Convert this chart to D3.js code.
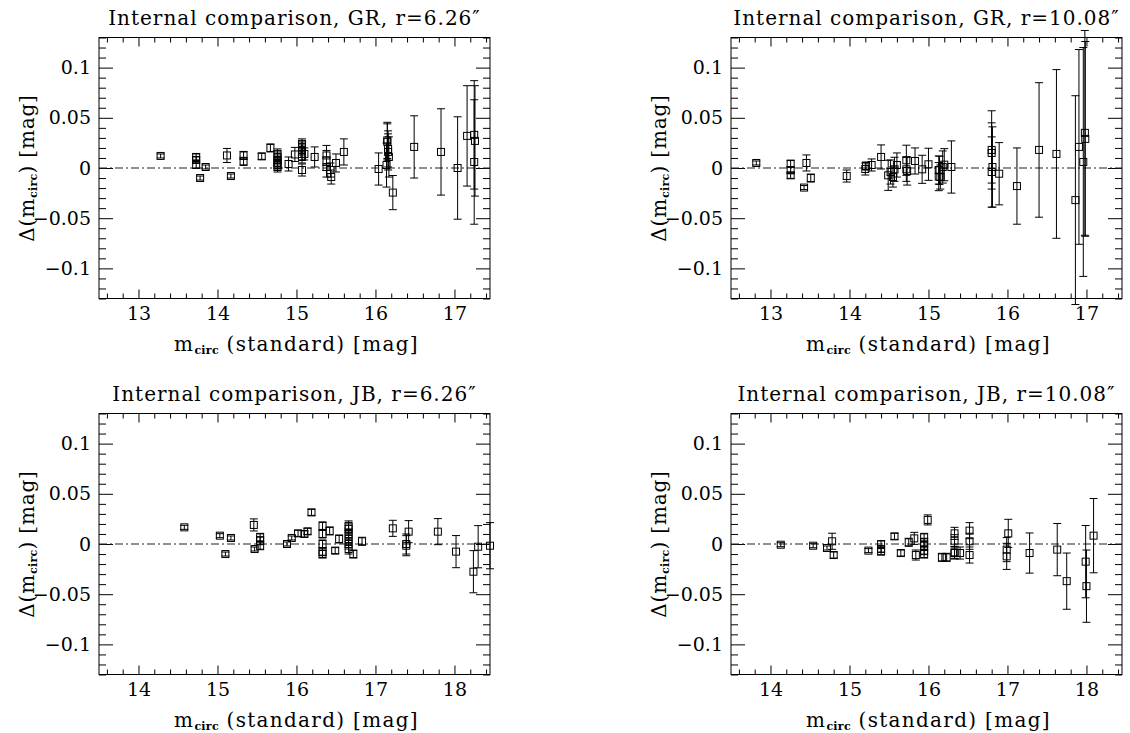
<!DOCTYPE html>
<html><head><meta charset="utf-8">
<script src="https://cdn.jsdelivr.net/npm/d3@7"></script>
<style>body{margin:0;background:#fff}</style>
</head><body>
<svg id="chart" width="1130" height="733"></svg>
<script>
// ---- tick values / labels ----
const topXDomain = [12.5, 17.45];
const bottomXDomain = [13.5, 18.45];
const yDomain = [-0.13, 0.13];
const topXTicks = [13, 14, 15, 16, 17];
const bottomXTicks = [14, 15, 16, 17, 18];
const yTicks = [0.1, 0.05, 0, -0.05, -0.1];
const yTickLabels = ["0.1", "0.05", "0", "\u22120.05", "\u22120.1"];
const titles = ["Internal comparison, GR, r=6.26\u2033", "Internal comparison, GR, r=10.08\u2033",
                "Internal comparison, JB, r=6.26\u2033", "Internal comparison, JB, r=10.08\u2033"];

// ---- GR, r=6.26" ----
const gr626_m = [13.28, 13.73, 13.73, 13.73, 13.78, 13.85, 14.12, 14.17, 14.33, 14.33, 14.56, 14.67, 14.76, 14.76, 14.76, 14.76, 14.76, 14.76, 14.90, 14.98, 15.07, 15.07, 15.07, 15.07, 15.07, 15.07, 15.10, 15.23, 15.38, 15.38, 15.38, 15.43, 15.44, 15.50, 15.60, 16.04, 16.15, 16.15, 16.16, 16.16, 16.17, 16.14, 16.22, 16.49, 16.83, 17.04, 17.16, 17.25, 17.26, 17.25];
const gr626_d = [0.012, 0.011, 0.008, 0.003, -0.010, 0.001, 0.0125, -0.008, 0.0125, 0.0066, 0.0116, 0.020, 0.014, 0.011, 0.008, 0.005, 0.003, 0.001, 0.004, 0.0135, 0.024, 0.021, 0.018, 0.014, 0.011, -0.002, 0.014, 0.011, 0.0125, 0.0075, 0.001, -0.002, -0.009, 0.005, 0.016, -0.001, 0.0275, 0.026, 0.019, 0.016, 0.011, 0.003, -0.0245, 0.021, 0.016, 0.0, 0.032, 0.033, 0.027, 0.006];
const gr626_e = [0.002, 0.003, 0.003, 0.003, 0.002, 0.002, 0.007, 0.002, 0.004, 0.004, 0.003, 0.004, 0.005, 0.005, 0.005, 0.005, 0.005, 0.005, 0.007, 0.007, 0.005, 0.005, 0.005, 0.006, 0.006, 0.006, 0.006, 0.010, 0.010, 0.010, 0.010, 0.007, 0.007, 0.009, 0.013, 0.016, 0.018, 0.018, 0.018, 0.018, 0.020, 0.022, 0.017, 0.031, 0.043, 0.051, 0.050, 0.054, 0.055, 0.062];

// ---- GR, r=10.08" ----
const gr1008_m = [12.82, 13.255, 13.255, 13.255, 13.455, 13.425, 13.51, 13.965, 14.20, 14.21, 14.28, 14.40, 14.49, 14.52, 14.57, 14.55, 14.60, 14.72, 14.72, 14.73, 14.83, 14.92, 15.00, 15.13, 15.13, 15.14, 15.15, 15.18, 15.20, 15.29, 15.80, 15.80, 15.81, 15.80, 15.895, 16.12, 16.40, 16.62, 16.86, 16.905, 16.96, 16.98, 16.985];
const gr1008_d = [0.005, 0.0044, -0.0023, -0.0073, 0.005, -0.0195, -0.010, -0.008, -0.001, 0.002, 0.003, 0.011, -0.0073, -0.004, -0.0013, -0.009, 0.003, 0.0077, -0.0013, -0.003, 0.007, -0.0013, 0.0037, -0.002, -0.0086, -0.0023, -0.009, 0.001, 0.0033, 0.001, 0.018, 0.015, 0.001, -0.004, -0.0057, -0.018, 0.018, 0.014, -0.032, 0.021, 0.006, 0.035, 0.029];
const gr1008_e = [0.002, 0.003, 0.003, 0.003, 0.008, 0.002, 0.004, 0.006, 0.006, 0.004, 0.006, 0.012, 0.015, 0.012, 0.012, 0.010, 0.012, 0.015, 0.012, 0.014, 0.013, 0.014, 0.016, 0.014, 0.014, 0.014, 0.012, 0.016, 0.016, 0.026, 0.039, 0.030, 0.040, 0.035, 0.031, 0.038, 0.067, 0.084, 0.104, 0.097, 0.114, 0.102, 0.097];

// ---- JB, r=6.26" ----
const jb626_m = [14.58, 15.03, 15.10, 15.17, 15.46, 15.47, 15.54, 15.54, 15.54, 15.88, 15.94, 16.02, 16.10, 16.14, 16.19, 16.33, 16.33, 16.33, 16.33, 16.33, 16.42, 16.49, 16.54, 16.66, 16.66, 16.66, 16.66, 16.66, 16.66, 16.72, 16.83, 17.22, 17.39, 17.39, 17.42, 17.79, 18.02, 18.24, 18.30, 18.45];
const jb626_d = [0.0166, 0.0083, -0.010, 0.006, 0.019, -0.005, 0.0066, 0.0033, -0.0017, 0.0, 0.006, 0.0106, 0.010, 0.0126, 0.0315, 0.018, 0.010, 0.0, -0.0076, -0.010, 0.013, -0.0066, 0.005, 0.018, 0.015, 0.010, 0.005, 0.0, -0.005, -0.010, 0.0027, 0.0156, 0.0, -0.0017, 0.0123, 0.0123, -0.0076, -0.0276, -0.0027, -0.0017];
const jb626_e = [0.002, 0.002, 0.002, 0.002, 0.006, 0.002, 0.004, 0.004, 0.004, 0.002, 0.002, 0.003, 0.003, 0.003, 0.003, 0.004, 0.004, 0.004, 0.004, 0.004, 0.004, 0.003, 0.004, 0.005, 0.005, 0.005, 0.005, 0.005, 0.005, 0.004, 0.004, 0.008, 0.010, 0.010, 0.011, 0.013, 0.016, 0.021, 0.021, 0.023];

// ---- JB, r=10.08" ----
const jb1008_m = [14.13, 14.54, 14.715, 14.78, 14.80, 15.24, 15.40, 15.40, 15.40, 15.57, 15.65, 15.75, 15.82, 15.84, 15.945, 15.945, 15.945, 15.945, 15.945, 15.99, 16.17, 16.23, 16.33, 16.33, 16.33, 16.33, 16.40, 16.52, 16.52, 16.52, 17.01, 16.99, 16.99, 17.28, 17.63, 17.75, 17.99, 18.00, 18.09];
const jb1008_d = [-0.0007, -0.0017, -0.004, 0.0027, -0.011, -0.0066, 0.0, -0.005, -0.0076, 0.0076, -0.009, 0.0017, 0.0056, -0.011, 0.0066, 0.0017, -0.0017, -0.0066, -0.010, 0.024, -0.0133, -0.0133, 0.0106, 0.0033, -0.0083, -0.009, -0.009, 0.0133, 0.0027, -0.011, 0.0106, -0.0056, -0.0123, -0.009, -0.0056, -0.037, -0.0176, -0.042, 0.0083];
const jb1008_e = [0.002, 0.002, 0.002, 0.008, 0.003, 0.002, 0.003, 0.003, 0.003, 0.003, 0.003, 0.004, 0.006, 0.005, 0.004, 0.004, 0.004, 0.004, 0.004, 0.005, 0.004, 0.004, 0.006, 0.006, 0.006, 0.006, 0.006, 0.008, 0.008, 0.008, 0.014, 0.012, 0.013, 0.020, 0.026, 0.028, 0.036, 0.036, 0.037];

// ---- layout ----
const W = 391, H = 261;
const FONT = "'DejaVu Serif', serif";
const panels = [
  {title: titles[0], m: gr626_m, d: gr626_d, e: gr626_e, xd: topXDomain, xt: topXTicks, left: 99, top: 37.5},
  {title: titles[1], m: gr1008_m, d: gr1008_d, e: gr1008_e, xd: topXDomain, xt: topXTicks, left: 731, top: 37.5},
  {title: titles[2], m: jb626_m, d: jb626_d, e: jb626_e, xd: bottomXDomain, xt: bottomXTicks, left: 99, top: 413.5},
  {title: titles[3], m: jb1008_m, d: jb1008_d, e: jb1008_e, xd: bottomXDomain, xt: bottomXTicks, left: 731, top: 413.5}
];

const svg = d3.select("#chart");

panels.forEach(p => {
  const g = svg.append("g").attr("transform", `translate(${p.left},${p.top})`);
  const x = d3.scaleLinear().domain(p.xd).range([0, W]);
  const y = d3.scaleLinear().domain(yDomain).range([H, 0]);

  const xMinor = d3.range(Math.ceil(p.xd[0] * 5), Math.floor(p.xd[1] * 5) + 1).map(v => v / 5).filter(v => Math.abs(v - Math.round(v)) > 1e-6);
  const yMinor = d3.range(-13, 14).filter(v => v % 5 !== 0).map(v => v / 100);

  function styleAxis(sel) {
    sel.select(".domain").remove();
    sel.selectAll("line").attr("stroke", "#000").attr("stroke-width", 1);
    sel.selectAll("text").attr("font-family", FONT).attr("font-size", 19).attr("fill", "#000");
  }
  // bottom
  g.append("g").attr("transform", `translate(0,${H})`)
    .call(d3.axisBottom(x).tickValues(p.xt).tickFormat(d3.format("d")).tickSize(-9).tickPadding(8)).call(styleAxis);
  g.append("g").attr("transform", `translate(0,${H})`)
    .call(d3.axisBottom(x).tickValues(xMinor).tickFormat("").tickSize(-5)).call(styleAxis);
  // top
  g.append("g").call(d3.axisTop(x).tickValues(p.xt).tickFormat("").tickSize(-9)).call(styleAxis);
  g.append("g").call(d3.axisTop(x).tickValues(xMinor).tickFormat("").tickSize(-5)).call(styleAxis);
  // left
  g.append("g").call(d3.axisLeft(y).tickValues(yTicks).tickFormat((d, i) => yTickLabels[i]).tickSize(-14).tickPadding(8)).call(styleAxis);
  g.append("g").call(d3.axisLeft(y).tickValues(yMinor).tickFormat("").tickSize(-7)).call(styleAxis);
  // right
  g.append("g").attr("transform", `translate(${W},0)`)
    .call(d3.axisRight(y).tickValues(yTicks).tickFormat("").tickSize(-14)).call(styleAxis);
  g.append("g").attr("transform", `translate(${W},0)`)
    .call(d3.axisRight(y).tickValues(yMinor).tickFormat("").tickSize(-7)).call(styleAxis);

  // frame
  g.append("rect").attr("x", 0).attr("y", 0).attr("width", W).attr("height", H)
    .attr("fill", "none").attr("stroke", "#000").attr("stroke-width", 1);

  // zero line
  g.append("line").attr("x1", 0).attr("x2", W).attr("y1", y(0)).attr("y2", y(0))
    .attr("stroke", "#222").attr("stroke-width", 1).attr("stroke-dasharray", "8,3,2,3");

  // data
  const pts = p.m.map((m, i) => ({m, d: p.d[i], e: p.e[i]}));
  const pg = g.append("g").attr("stroke", "#000").attr("stroke-width", 1).attr("fill", "none");
  pg.selectAll("line.err").data(pts).join("line").attr("class", "err")
    .attr("x1", d => x(d.m)).attr("x2", d => x(d.m))
    .attr("y1", d => y(d.d - d.e)).attr("y2", d => y(d.d + d.e));
  pg.selectAll("line.capt").data(pts).join("line").attr("class", "capt")
    .attr("x1", d => x(d.m) - 4).attr("x2", d => x(d.m) + 4)
    .attr("y1", d => y(d.d + d.e)).attr("y2", d => y(d.d + d.e));
  pg.selectAll("line.capb").data(pts).join("line").attr("class", "capb")
    .attr("x1", d => x(d.m) - 4).attr("x2", d => x(d.m) + 4)
    .attr("y1", d => y(d.d - d.e)).attr("y2", d => y(d.d - d.e));
  pg.selectAll("rect.pt").data(pts).join("rect").attr("class", "pt")
    .attr("x", d => x(d.m) - 3.5).attr("y", d => y(d.d) - 3.5)
    .attr("width", 7).attr("height", 7);

  // title
  svg.append("text").attr("x", p.left + W / 2).attr("y", p.top - 12.5)
    .attr("text-anchor", "middle").attr("font-family", FONT).attr("font-size", 20)
    .attr("letter-spacing", 1)
    .text(p.title);

  // x label
  const xl = svg.append("text").attr("x", p.left + W / 2 + 2).attr("y", p.top + H + 52)
    .attr("text-anchor", "middle").attr("font-family", FONT).attr("font-size", 20)
    .attr("letter-spacing", 1.3);
  xl.append("tspan").text("m");
  xl.append("tspan").attr("font-size", 11).attr("font-weight", "bold").attr("letter-spacing", 0.3).attr("dy", 3).text("circ");
  xl.append("tspan").attr("dy", -3).text("  (standard)  [mag]");

  // y label
  const yl = svg.append("text")
    .attr("transform", `translate(${p.left - 65},${p.top + H / 2}) rotate(-90)`)
    .attr("text-anchor", "middle").attr("font-family", FONT).attr("font-size", 20)
    .attr("letter-spacing", 0.8);
  yl.append("tspan").text("\u0394(m");
  yl.append("tspan").attr("font-size", 11).attr("font-weight", "bold").attr("letter-spacing", 0.3).attr("dy", 3).text("circ");
  yl.append("tspan").attr("dy", -3).text(")  [mag]");
});
</script>
</body></html>
